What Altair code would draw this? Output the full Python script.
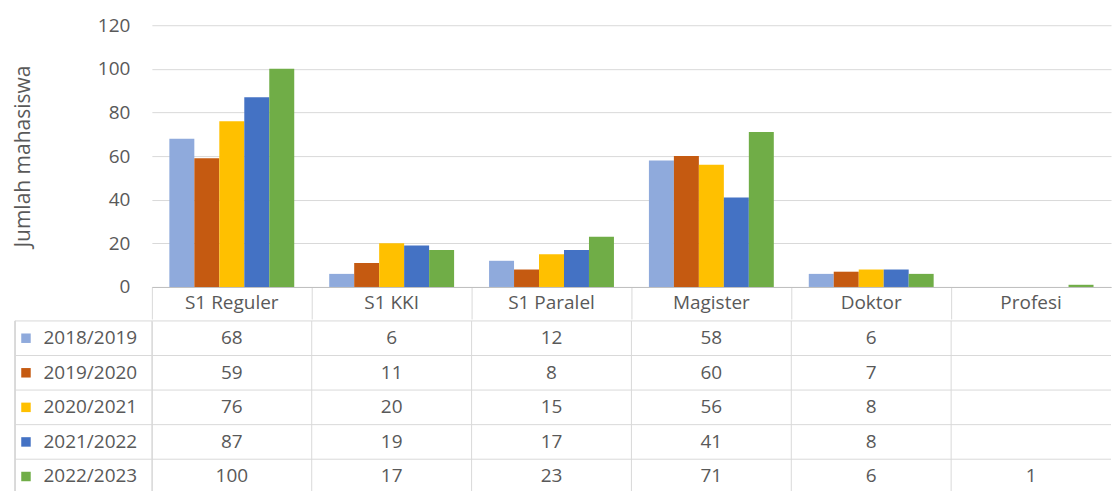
import altair as alt
import pandas as pd

categories = ["S1 Reguler", "S1 KKI", "S1 Paralel", "Magister", "Doktor", "Profesi"]
years = ["2018/2019", "2019/2020", "2020/2021", "2021/2022", "2022/2023"]
v_2018_2019 = [68, 6, 12, 58, 6, None]
v_2019_2020 = [59, 11, 8, 60, 7, None]
v_2020_2021 = [76, 20, 15, 56, 8, None]
v_2021_2022 = [87, 19, 17, 41, 8, None]
v_2022_2023 = [100, 17, 23, 71, 6, 1]
series_values = [v_2018_2019, v_2019_2020, v_2020_2021, v_2021_2022, v_2022_2023]
colors = ["#8FAADC", "#C55A11", "#FFC000", "#4472C4", "#70AD47"]
y_ticks = [0, 20, 40, 60, 80, 100, 120]
y_title = "Jumlah mahasiswa"

rows = []
for yr, vals in zip(years, series_values):
    for cat, v in zip(categories, vals):
        rows.append({"program": cat, "year": yr, "value": v})
df = pd.DataFrame(rows)
legend_df = pd.DataFrame({"year": years})
cols_df = pd.DataFrame({"program": categories})

FONT = "Open Sans"
TXT = "#595959"
GRID = "#D9D9D9"
FS = 19
PLOT_W = 960
BAR_H = 262
HEADER_H = 32
TABLE_H = 173
LEG_W = 137

x_scale = alt.Scale(domain=categories, paddingInner=0, paddingOuter=0)
color_scale = alt.Scale(domain=years, range=colors)
row_scale = alt.Scale(domain=years, paddingInner=0, paddingOuter=0)

bars = alt.Chart(df).mark_bar().encode(
    x=alt.X("program:N", sort=categories, scale=x_scale,
            axis=alt.Axis(title=None, orient="bottom", labelAngle=0, bandPosition=0,
                          ticks=True, tickSize=HEADER_H, tickColor=GRID,
                          domain=True, domainColor="#BFBFBF", grid=False,
                          labelPadding=-25, labelFont=FONT, labelFontSize=FS,
                          labelColor=TXT)),
    xOffset=alt.XOffset("year:N", sort=years,
                        scale=alt.Scale(domain=years, paddingInner=0, paddingOuter=0.7)),
    y=alt.Y("value:Q", scale=alt.Scale(domain=[0, 120], nice=False),
            axis=alt.Axis(values=y_ticks, title=y_title, ticks=False, domain=False,
                          grid=True, gridColor=GRID, labelPadding=22,
                          labelFont=FONT, labelFontSize=FS, labelColor=TXT,
                          titleFont=FONT, titleFontSize=21, titleFontWeight="normal",
                          titleColor=TXT, titlePadding=64)),
    color=alt.Color("year:N", scale=color_scale, legend=None),
).properties(width=PLOT_W, height=BAR_H)

x_cols = alt.X("program:N", sort=categories, scale=x_scale, axis=None)
y_rows = alt.Y("year:N", sort=years, scale=row_scale,
               axis=alt.Axis(title=None, ticks=False, grid=False,
                             domain=True, domainColor=GRID, labelAlign="left",
                             labelPadding=109, labelFont=FONT, labelFontSize=FS,
                             labelColor=TXT))

values_layer = alt.Chart(df).transform_filter("isValid(datum.value)").mark_text(
    font=FONT, fontSize=FS, color=TXT
).encode(x=x_cols, y=y_rows, text=alt.Text("value:Q"))

swatches = alt.Chart(legend_df).mark_point(shape="square", filled=True, size=90, opacity=1).encode(
    x=alt.value(-126),
    y=y_rows,
    color=alt.Color("year:N", scale=color_scale, legend=None),
)

row_lines = alt.Chart(legend_df).mark_rule(color=GRID).encode(
    x=alt.value(-LEG_W), x2=alt.value(PLOT_W),
    y=alt.Y("year:N", sort=years, scale=row_scale, bandPosition=0),
)

col_lines = alt.Chart(cols_df).mark_rule(color=GRID).encode(
    x=alt.X("program:N", sort=categories, scale=x_scale, bandPosition=0, axis=None),
    y=alt.value(0), y2=alt.value(TABLE_H),
)

left_border = alt.Chart(legend_df).mark_rule(color=GRID).encode(
    x=alt.value(-LEG_W), y=alt.value(0), y2=alt.value(TABLE_H)
)

table = alt.layer(row_lines, col_lines, left_border, values_layer, swatches).properties(
    width=PLOT_W, height=TABLE_H)

chart = alt.vconcat(bars, table, spacing=0).properties(
    padding={"left": 4, "top": 8, "right": 0, "bottom": 0}
).configure_view(stroke=None)

chart.save("out.html", embed_options={"renderer": "svg", "actions": False})
